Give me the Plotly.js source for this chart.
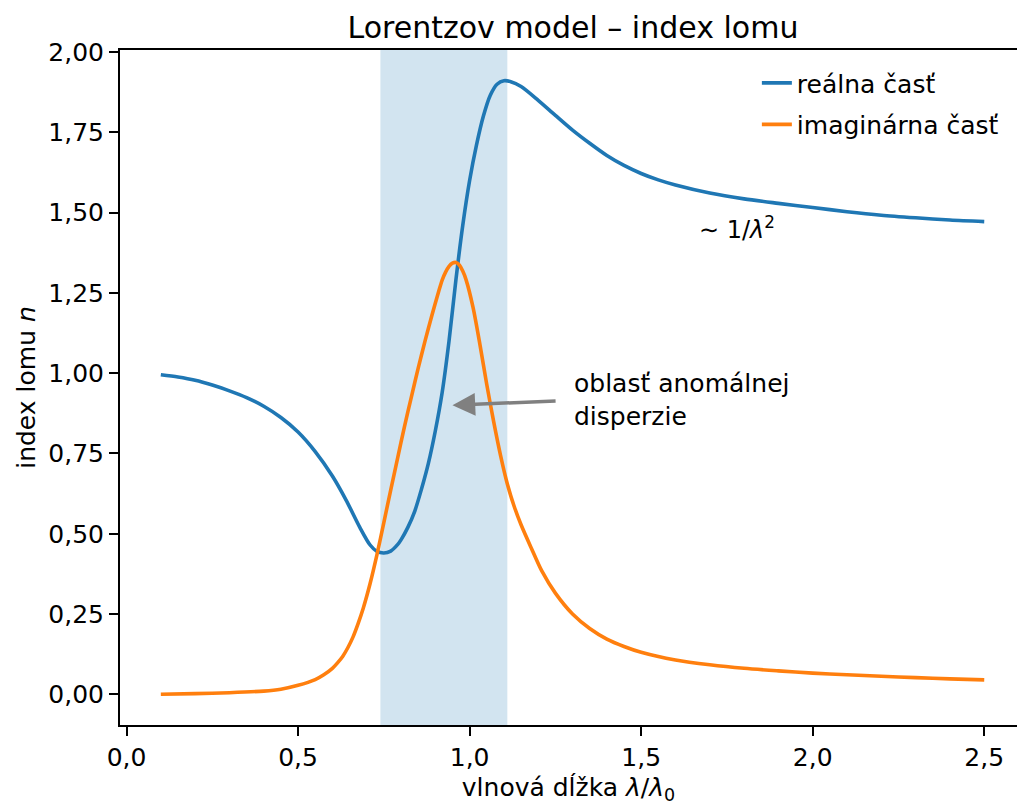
<!DOCTYPE html>
<html>
<head>
<meta charset="utf-8">
<script src="https://cdn.plot.ly/plotly-3.0.1.min.js"></script>
<style>html,body{margin:0;padding:0;background:#fff;}#chart{width:1017px;height:805px;}</style>
</head>
<body>
<div id="chart"></div>
<script>
// wavelength (λ/λ0) and real part of refractive index
const reX = [0.10,0.15,0.20,0.25,0.30,0.35,0.40,0.45,0.50,0.55,0.60,0.64,0.68,0.71,0.73,0.75,0.77,0.79,0.80,0.82,0.84,0.86,0.88,0.90,0.92,0.94,0.96,0.98,1.00,1.02,1.04,1.06,1.08,1.10,1.12,1.15,1.20,1.25,1.30,1.35,1.40,1.45,1.50,1.55,1.60,1.70,1.80,1.90,2.00,2.10,2.20,2.30,2.40,2.50];
const reY = [0.995,0.988,0.978,0.963,0.945,0.924,0.897,0.862,0.817,0.756,0.680,0.605,0.520,0.465,0.445,0.440,0.446,0.466,0.481,0.520,0.570,0.640,0.720,0.820,0.940,1.100,1.290,1.460,1.600,1.710,1.800,1.865,1.900,1.911,1.908,1.893,1.850,1.803,1.757,1.716,1.678,1.647,1.622,1.602,1.586,1.561,1.543,1.529,1.516,1.503,1.492,1.484,1.477,1.472];
// wavelength and imaginary part
const imX = [0.10,0.20,0.30,0.40,0.45,0.50,0.55,0.575,0.60,0.615,0.63,0.645,0.66,0.675,0.69,0.71,0.73,0.75,0.77,0.79,0.81,0.83,0.85,0.87,0.89,0.91,0.92,0.93,0.94,0.95,0.96,0.97,0.98,0.99,1.01,1.03,1.05,1.07,1.09,1.11,1.13,1.15,1.18,1.21,1.25,1.30,1.35,1.40,1.45,1.50,1.60,1.70,1.80,1.90,2.00,2.10,2.20,2.30,2.40,2.50];
const imY = [0.000,0.002,0.005,0.010,0.016,0.028,0.046,0.061,0.081,0.098,0.118,0.145,0.178,0.220,0.268,0.345,0.435,0.535,0.636,0.735,0.833,0.925,1.015,1.100,1.180,1.255,1.290,1.315,1.333,1.343,1.345,1.337,1.318,1.290,1.205,1.090,0.965,0.850,0.745,0.655,0.585,0.528,0.455,0.385,0.315,0.250,0.205,0.172,0.149,0.131,0.107,0.092,0.081,0.073,0.066,0.061,0.056,0.052,0.048,0.045];
// anomalous dispersion band
const bandStart = 0.74, bandEnd = 1.11;
const seriesNames = ['reálna časť', 'imaginárna časť'];

const FONT = 'DejaVu Sans, sans-serif';
const traces = [
  {x: reX, y: reY, name: seriesNames[0], mode: 'lines', legendgroup: 'a',
   line: {color: '#1f77b4', width: 3.6, shape: 'spline', smoothing: 0.8}},
  {x: imX, y: imY, name: seriesNames[1], mode: 'lines', legendgroup: 'b',
   line: {color: '#ff7f0e', width: 3.6, shape: 'spline', smoothing: 0.8}}
];

const layout = {
  width: 1017, height: 805,
  margin: {l: 120, r: 0, t: 50, b: 80},
  paper_bgcolor: '#fff', plot_bgcolor: '#fff',
  separators: ', ',
  font: {family: FONT, size: 25, color: '#000'},
  title: {text: 'Lorentzov model – index lomu', font: {family: FONT, size: 30, color: '#000'},
          x: 0.505, xref: 'paper', xanchor: 'center', y: 0.966, yanchor: 'middle'},
  xaxis: {range: [-0.019, 2.5955], tick0: 0, dtick: 0.5, tickformat: '.1f',
          showgrid: false, zeroline: false, showline: true, linecolor: '#000', linewidth: 2,
          mirror: true, ticks: 'outside', ticklen: 9, tickwidth: 2, tickcolor: '#000',
          tickfont: {family: FONT, size: 25},
          title: {text: 'vlnová dĺžka <i>λ</i>/<i>λ</i><sub>0</sub>', font: {family: FONT, size: 25}, standoff: 12}},
  yaxis: {range: [-0.0956, 2.0066], tick0: 0, dtick: 0.25, tickformat: '.2f',
          showgrid: false, zeroline: false, showline: true, linecolor: '#000', linewidth: 2,
          mirror: false, ticks: 'outside', ticklen: 9, tickwidth: 2, tickcolor: '#000',
          tickfont: {family: FONT, size: 25},
          title: {text: 'index lomu <i>n</i>', font: {family: FONT, size: 25}, standoff: 6}},
  showlegend: true,
  legend: {x: 0.710, xanchor: 'left', y: 0.985, yanchor: 'top', bgcolor: 'rgba(0,0,0,0)',
           borderwidth: 0, font: {family: FONT, size: 25}, tracegroupgap: 6},
  shapes: [
    {type: 'rect', xref: 'x', yref: 'paper', x0: bandStart, x1: bandEnd, y0: 0, y1: 1,
     fillcolor: 'rgba(31,119,180,0.2)', line: {width: 0}, layer: 'below'}
  ],
  annotations: [
    {x: 0.95, y: 0.90, xref: 'x', yref: 'y', ax: 1.255, ay: 0.914, axref: 'x', ayref: 'y',
     text: '', showarrow: true, arrowhead: 2, arrowsize: 1.3, arrowwidth: 3.5, arrowcolor: '#808080'},
    {x: 1.298, y: 0.916, xref: 'x', yref: 'y', xanchor: 'left', yanchor: 'middle', align: 'left',
     text: 'oblasť anomálnej<br>disperzie', showarrow: false, font: {family: FONT, size: 25}},
    {x: 1.662, y: 1.452, xref: 'x', yref: 'y', xanchor: 'left', yanchor: 'middle',
     text: '∼ 1/<i>λ</i><sup>2</sup>', showarrow: false, font: {family: FONT, size: 24}}
  ]
};

Plotly.newPlot('chart', traces, layout, {displayModeBar: false, staticPlot: true});
</script>
</body>
</html>
